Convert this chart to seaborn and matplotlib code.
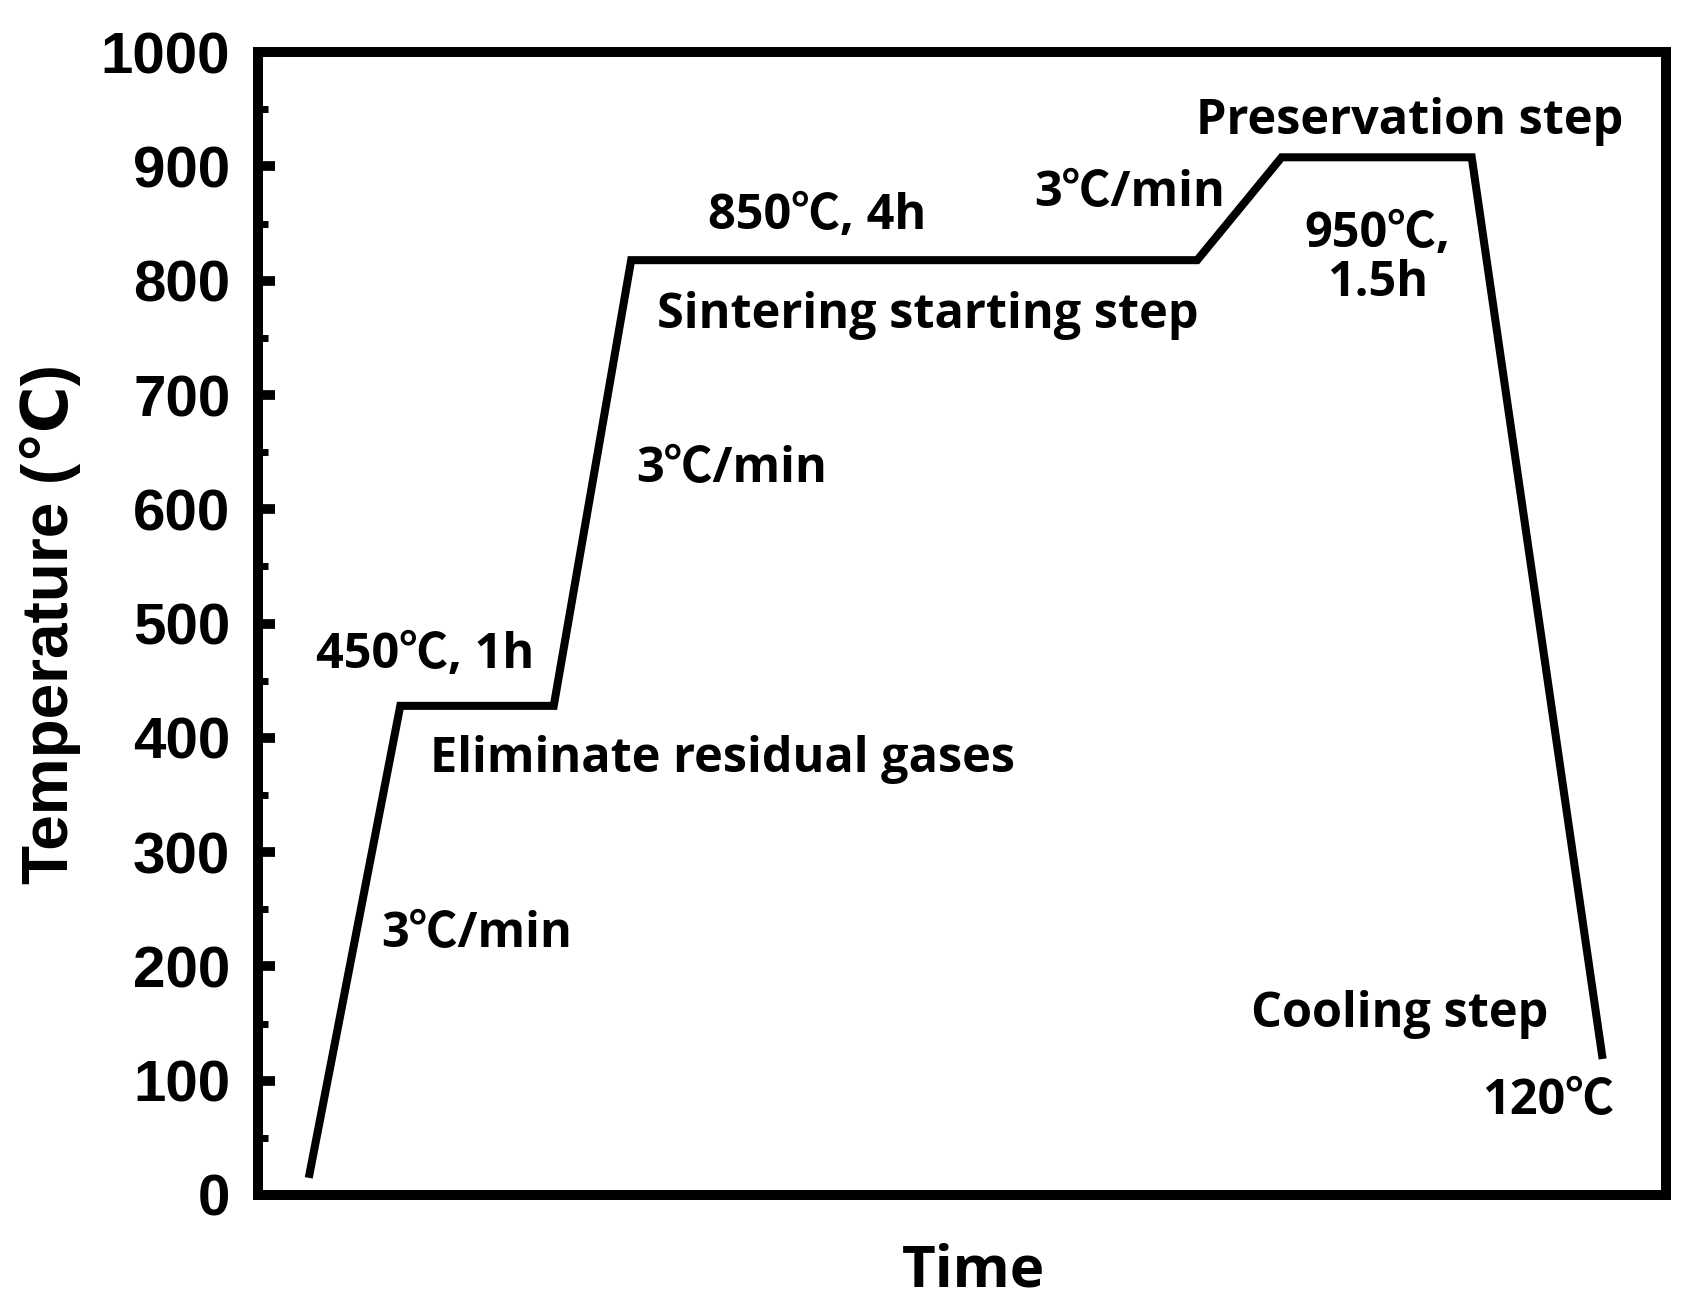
import matplotlib
matplotlib.use("Agg")
import matplotlib.pyplot as plt
import seaborn as sns
import pandas as pd
from matplotlib.ticker import MultipleLocator

# Data (time in arbitrary units, temperature in °C)
time_pts = [3.6, 10.1, 21.0, 26.5, 66.7, 72.7, 86.2, 95.5]
temp_pts = [15, 428, 428, 818, 818, 908, 908, 119]

annot_texts = ["Preservation step", "3℃/min", "850℃, 4h", "950℃,\n1.5h",
               "Sintering starting step", "3℃/min", "450℃, 1h",
               "Eliminate residual gases", "3℃/min", "Cooling step", "120℃"]
annot_x = [81.8, 61.9, 39.7, 79.5, 47.6, 33.6, 11.9, 33.0, 15.5, 81.1, 91.6]
annot_y = [939, 876, 856, 819, 770, 635, 472, 381, 228, 158, 82]

y_ticks = [0, 100, 200, 300, 400, 500, 600, 700, 800, 900, 1000]

sns.set_style("ticks")
plt.rcParams['font.family'] = ['Liberation Sans', 'DejaVu Sans']
for k in ['text.color', 'axes.labelcolor', 'xtick.color', 'ytick.color', 'axes.edgecolor']:
    plt.rcParams[k] = 'black'

ann_family = ['Open Sans', 'Noto Sans CJK KR', 'DejaVu Sans']

df = pd.DataFrame({"Time": time_pts, "Temperature": temp_pts})

fig = plt.figure(figsize=(16.9, 13.04), dpi=100)
ax = fig.add_axes([0.1527, 0.0836, 0.9858 - 0.1527, 0.960 - 0.0836])

sns.lineplot(data=df, x="Time", y="Temperature", sort=False, color="black",
             linewidth=5.8, ax=ax)
for ln in ax.lines:
    ln.set_solid_joinstyle("miter")
    ln.set_solid_capstyle("butt")

ax.set_xlim(0, 100)
ax.set_ylim(0, 1000)
ax.set_xticks([])
ax.set_yticks(y_ticks)
ax.yaxis.set_minor_locator(MultipleLocator(50))

for s in ax.spines.values():
    s.set_linewidth(7.2)
    s.set_color("black")
    s.set_visible(True)

ax.tick_params(axis='y', which='major', direction='in', length=12, width=7,
               pad=20, labelsize=42, colors='black')
ax.tick_params(axis='y', which='minor', direction='in', length=7, width=5, colors='black')
for lab in ax.get_yticklabels():
    lab.set_fontweight('bold')

ax.set_ylabel("Temperature (℃)", fontsize=46, fontweight='bold',
              family=['Liberation Sans', 'DejaVu Sans'])
ax.yaxis.set_label_coords(-0.126, 0.5)
ax.set_xlabel("Time", fontsize=42, fontweight='bold', family=ann_family)
ax.xaxis.set_label_coords(0.508, -0.042)

for t, x, y in zip(annot_texts, annot_x, annot_y):
    ax.text(x, y, t, ha='center', va='center', fontsize=35, fontweight='bold',
            family=ann_family, linespacing=1.0)

fig.savefig("out.png", dpi=100, facecolor="white")
